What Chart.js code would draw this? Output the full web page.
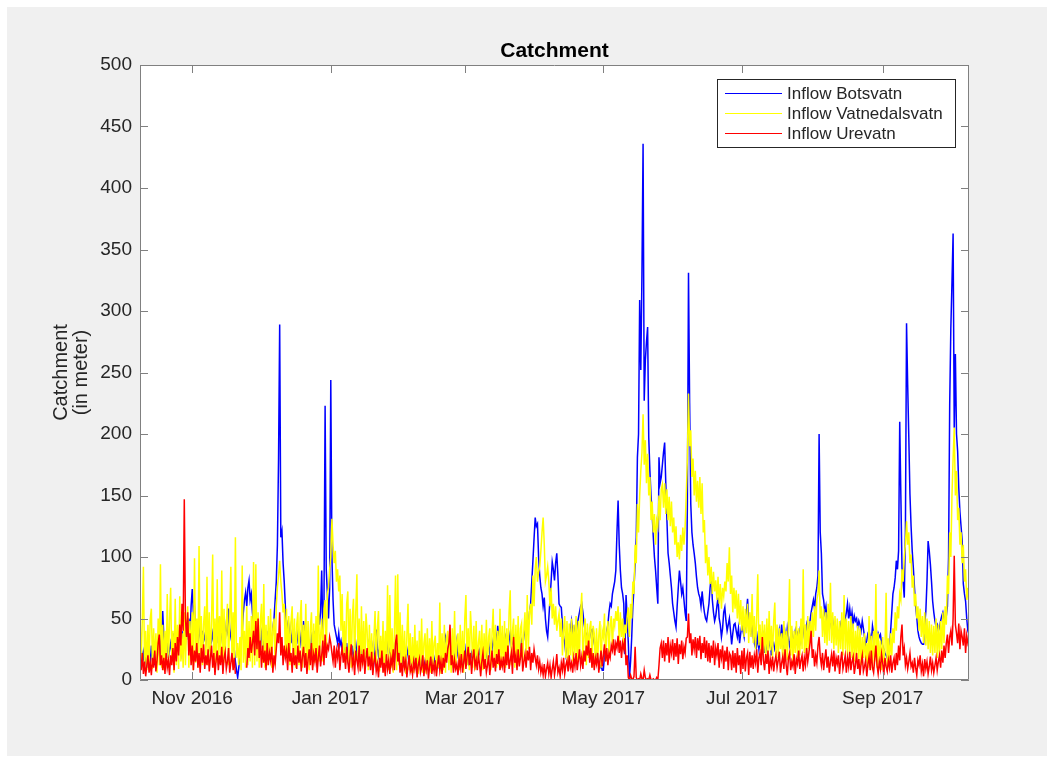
<!DOCTYPE html>
<html>
<head>
<meta charset="utf-8">
<title>Catchment</title>
<script src="https://cdn.jsdelivr.net/npm/chart.js@4.4.1/dist/chart.umd.min.js"></script>
<style>
  html, body { margin: 0; padding: 0; background: #ffffff; }
  canvas { display: block; }
</style>
</head>
<body>
<canvas id="grafico" width="1054" height="758"></canvas>
<script>
// one value every half day, starting 9 Oct 2016 (day 0)
const stepDays = 0.5;
const dayMax = 365;

// x tick positions (days since 9 Oct 2016) and their labels
const tickDays = [23, 84, 143, 204, 265, 327];
const tickLabels = ["Nov 2016", "Jan 2017", "Mar 2017", "May 2017", "Jul 2017", "Sep 2017"];
const yMax = 500;
const yStep = 50;

const seriesNames = ["Inflow Botsvatn", "Inflow Vatnedalsvatn", "Inflow Urevatn"];

const botsvatn = [
  20, 27, 15, 22, 12, 18, 25, 10, 20, 14, 28, 16, 22, 12, 30, 18, 24, 35, 20, 40,
  56, 35, 28, 20, 32, 18, 25, 30, 22, 38, 26, 20, 30, 24, 35, 28, 22, 40, 30, 35,
  30, 45, 38, 50, 35, 60, 74, 55, 60, 45, 38, 30, 42, 35, 28, 40, 32, 36, 30, 38,
  35, 28, 40, 32, 38, 30, 42, 36, 45, 30, 51, 40, 35, 28, 38, 32, 45, 40, 58, 42,
  35, 30, 40, 25, 15, 8, 2, 10, 20, 30, 40, 55, 65, 71, 60, 75, 81, 65, 70, 55,
  45, 35, 40, 28, 35, 30, 25, 38, 32, 28, 35, 25, 30, 40, 28, 35, 30, 42, 50, 65,
  80, 110, 180, 289, 116, 121, 95, 80, 60, 40, 45, 35, 42, 30, 38, 28, 35, 30, 40, 32,
  36, 30, 38, 28, 48, 35, 30, 25, 32, 28, 22, 35, 30, 40, 28, 35, 42, 56, 45, 55,
  89, 40, 60, 223, 90, 70, 50, 75, 244, 100, 65, 45, 40, 35, 30, 38, 28, 32, 25, 30,
  28, 22, 30, 18, 25, 32, 20, 28, 15, 25, 30, 22, 18, 28, 24, 20, 30, 16, 26, 22,
  20, 28, 18, 25, 30, 22, 15, 24, 41, 28, 20, 25, 18, 30, 22, 16, 28, 20, 35, 22,
  25, 18, 30, 20, 15, 28, 22, 30, 18, 25, 20, 15, 22, 18, 12, 20, 25, 16, 22, 14,
  18, 12, 20, 15, 10, 18, 14, 20, 12, 16, 10, 15, 18, 12, 20, 14, 10, 16, 12, 18,
  14, 10, 16, 12, 18, 15, 20, 25, 30, 35, 28, 22, 18, 15, 20, 16, 22, 18, 25, 32,
  20, 15, 22, 18, 12, 20, 16, 25, 18, 14, 20, 15, 22, 18, 25, 20, 16, 22, 18, 24,
  20, 25, 18, 22, 28, 20, 25, 30, 22, 28, 25, 32, 28, 38, 30, 44, 35, 40, 35, 30,
  32, 28, 35, 30, 25, 32, 38, 28, 30, 35, 26, 32, 28, 35, 30, 25, 32, 28, 35, 40,
  35, 40, 45, 55, 62, 80, 97, 115, 132, 125, 127, 100, 85, 75, 70, 60, 67, 50, 40, 35,
  50, 65, 80, 96, 90, 81, 95, 103, 85, 62, 60, 59, 45, 35, 30, 21, 28, 35, 30, 40,
  48, 40, 35, 42, 38, 45, 50, 55, 60, 62, 55, 46, 40, 35, 38, 30, 35, 40, 41, 35,
  30, 25, 22, 18, 15, 10, 12, 8, 8, 20, 30, 40, 45, 55, 62, 60, 70, 75, 80, 89,
  120, 146, 110, 89, 75, 70, 62, 21, 69, 50, 30, 2, 15, 35, 60, 75, 95, 116, 181, 200,
  309, 252, 330, 436, 227, 260, 275, 287, 197, 170, 150, 135, 116, 100, 89, 75, 62, 181, 160, 165,
  175, 185, 193, 160, 130, 103, 95, 85, 75, 62, 55, 48, 43, 60, 75, 89, 80, 70, 75, 65,
  55, 48, 143, 331, 225, 143, 120, 110, 103, 95, 84, 75, 70, 67, 60, 72, 62, 55, 50, 48,
  55, 62, 75, 84, 65, 55, 48, 52, 60, 67, 50, 45, 35, 42, 55, 59, 48, 40, 45, 50,
  40, 29, 38, 45, 46, 40, 35, 42, 30, 38, 45, 40, 35, 48, 55, 66, 50, 42, 38, 45,
  35, 30, 40, 28, 35, 25, 32, 30, 28, 35, 22, 30, 25, 35, 28, 32, 20, 28, 30, 25,
  28, 35, 30, 40, 32, 45, 35, 28, 38, 30, 42, 35, 28, 32, 38, 30, 35, 40, 32, 38,
  35, 40, 32, 38, 42, 35, 40, 45, 38, 42, 48, 55, 60, 65, 58, 70, 75, 85, 200, 120,
  103, 70, 65, 55, 60, 48, 52, 45, 50, 42, 48, 40, 45, 38, 42, 35, 40, 45, 38, 42,
  45, 50, 55, 62, 50, 58, 48, 55, 45, 52, 48, 50, 42, 48, 45, 40, 48, 42, 35, 29,
  32, 38, 40, 35, 30, 44, 38, 35, 40, 32, 38, 35, 37, 30, 28, 25, 22, 20, 18, 16,
  25, 40, 55, 70, 75, 83, 97, 90, 105, 210, 150, 91, 80, 67, 120, 290, 240, 197, 151, 125,
  105, 91, 75, 60, 51, 40, 35, 32, 30, 29, 29, 45, 56, 80, 113, 105, 94, 80, 64, 55,
  48, 43, 45, 40, 42, 48, 52, 55, 50, 48, 52, 60, 100, 224, 286, 323, 363, 205, 265, 200,
  186, 156, 137, 125, 113, 78, 70, 64, 50, 40, 37
];

const vatnedalsvatn = [
  55, 12, 48, 92, 10, 40, 8, 45, 14, 50, 58, 9, 42, 15, 38, 6, 50, 12, 94, 10,
  45, 8, 40, 12, 70, 10, 48, 75, 14, 40, 6, 66, 12, 45, 9, 68, 15, 38, 10, 55,
  12, 42, 60, 10, 48, 15, 55, 8, 99, 14, 50, 10, 109, 18, 52, 12, 45, 60, 15, 84,
  12, 55, 16, 48, 102, 10, 50, 14, 82, 12, 52, 18, 89, 10, 58, 14, 47, 62, 12, 50,
  92, 15, 55, 10, 116, 18, 30, 12, 35, 8, 93, 14, 40, 10, 60, 12, 48, 15, 52, 10,
  96, 12, 94, 15, 55, 10, 48, 62, 14, 78, 10, 45, 12, 52, 16, 58, 10, 42, 50, 12,
  60, 75, 85, 97, 80, 70, 55, 62, 20, 58, 15, 52, 12, 48, 60, 14, 50, 10, 45, 55,
  12, 50, 65, 10, 45, 15, 62, 12, 48, 8, 42, 55, 10, 46, 14, 52, 12, 93, 15, 36,
  50, 15, 58, 65, 20, 70, 75, 90, 100, 131, 110, 95, 105, 80, 90, 72, 85, 40, 70, 20,
  48, 12, 62, 72, 14, 58, 10, 52, 66, 12, 55, 86, 15, 50, 8, 60, 12, 48, 10, 54,
  40, 8, 45, 12, 38, 6, 35, 56, 10, 42, 56, 7, 36, 12, 48, 6, 40, 10, 77, 8,
  69, 10, 42, 6, 38, 85, 8, 86, 12, 55, 7, 45, 10, 40, 5, 36, 62, 8, 38, 6,
  35, 6, 45, 10, 32, 5, 40, 8, 50, 6, 30, 38, 5, 42, 8, 34, 6, 48, 10, 30,
  36, 6, 30, 10, 63, 5, 38, 8, 45, 6, 34, 40, 8, 35, 6, 42, 10, 56, 8, 32,
  38, 8, 45, 10, 40, 6, 50, 69, 12, 42, 8, 56, 38, 10, 44, 8, 48, 12, 30, 40,
  10, 45, 8, 38, 12, 49, 10, 35, 42, 8, 38, 58, 12, 45, 10, 40, 12, 58, 10, 44,
  12, 48, 10, 42, 14, 55, 73, 12, 40, 50, 10, 45, 15, 52, 12, 42, 46, 14, 40, 55,
  20, 69, 25, 55, 62, 45, 85, 60, 90, 100, 80, 88, 92, 105, 120, 132, 110, 80, 85, 92,
  80, 60, 75, 50, 62, 45, 60, 40, 48, 54, 35, 50, 20, 40, 52, 18, 48, 15, 46, 20,
  50, 15, 45, 20, 52, 12, 48, 18, 55, 71, 14, 35, 50, 12, 46, 18, 42, 48, 10, 44,
  38, 12, 42, 15, 36, 48, 10, 40, 35, 54, 15, 38, 48, 20, 45, 52, 25, 50, 44, 56,
  48, 60, 30, 55, 35, 50, 25, 45, 38, 52, 59, 35, 62, 50, 80, 70, 110, 95, 143, 120,
  150, 170, 185, 216, 175, 195, 160, 184, 150, 165, 130, 145, 120, 135, 110, 130, 125, 150, 130, 155,
  159, 140, 160, 135, 155, 130, 149, 125, 145, 120, 132, 110, 125, 100, 112, 98, 118, 105, 124, 110,
  124, 150, 180, 233, 190, 203, 165, 180, 150, 170, 145, 162, 140, 165, 135, 160, 120, 130, 95, 110,
  85, 100, 78, 92, 70, 88, 72, 81, 65, 84, 62, 78, 58, 75, 68, 80, 72, 95, 80, 108,
  70, 85, 55, 75, 58, 73, 50, 70, 45, 65, 40, 60, 35, 58, 38, 62, 30, 55, 35, 70,
  30, 52, 25, 50, 86, 28, 45, 20, 48, 22, 45, 18, 50, 20, 56, 24, 44, 18, 48, 63,
  20, 45, 18, 42, 25, 38, 15, 48, 22, 40, 16, 45, 82, 20, 44, 15, 40, 22, 48, 18,
  42, 20, 50, 25, 90, 22, 45, 18, 52, 25, 48, 30, 55, 35, 60, 40, 65, 70, 89, 50,
  60, 35, 58, 30, 55, 28, 62, 32, 79, 30, 55, 25, 52, 28, 50, 22, 48, 25, 55, 20,
  69, 25, 50, 20, 48, 22, 52, 18, 46, 15, 40, 20, 44, 16, 42, 12, 35, 18, 38, 14,
  30, 10, 52, 12, 36, 8, 40, 15, 78, 10, 38, 12, 32, 8, 35, 14, 25, 71, 10, 34,
  12, 38, 20, 42, 30, 55, 40, 60, 50, 70, 65, 90, 80, 100, 110, 129, 110, 120, 95, 102,
  75, 85, 60, 70, 50, 60, 40, 58, 35, 52, 30, 55, 28, 50, 25, 48, 22, 45, 20, 44,
  22, 50, 18, 45, 20, 48, 25, 55, 30, 60, 45, 85, 70, 120, 100, 150, 180, 205, 150, 170,
  130, 140, 110, 120, 95, 110, 80, 90, 65, 75, 62
];

const urevatn = [
  18, 8, 22, 5, 15, 3, 12, 20, 6, 14, 4, 18, 10, 24, 7, 16, 30, 37, 12, 20,
  8, 18, 5, 22, 10, 16, 4, 20, 12, 26, 8, 30, 15, 35, 20, 45, 28, 62, 40, 147,
  50, 35, 55, 20, 38, 12, 28, 8, 24, 15, 30, 10, 22, 6, 26, 14, 29, 9, 20, 12,
  25, 7, 18, 28, 10, 22, 4, 16, 24, 8, 20, 12, 27, 5, 18, 23, 9, 15, 26, 6,
  14, 22, 8, 18, 5, null, null, null, null, null, null, null, null, null, 10, 26, 18, 35, 22, 30,
  40, 20, 48, 25, 50, 18, 32, 10, 28, 14, 24, 8, 30, 12, 22, 16, 27, 6, 20, 13,
  25, 38, 30, 55, 20, 35, 12, 28, 18, 24, 8, 30, 15, 22, 6, 26, 12, 20, 9, 28,
  14, 24, 7, 19, 27, 10, 22, 5, 17, 25, 12, 30, 8, 21, 15, 26, 6, 18, 28, 11,
  20, 32, 12, 37, 18, 28, 25, 35, 30, 22, 15, 28, 10, 24, 18, 30, 8, 20, 26, 14,
  22, 9, 27, 15, 6, 20, 29, 12, 18, 4, 24, 16, 10, 28, 7, 21, 14, 25, 5, 17,
  26, 11, 19, 8, 23, 4, 15, 20, 7, 13, 2, 18, 10, 24, 6, 14, 3, 21, 9, 16,
  5, 18, 12, 25, 8, 30, 37, 15, 22, 6, 14, 3, 19, 10, 16, 2, 12, 20, 7, 11,
  4, 15, 9, 18, 2, 12, 17, 6, 10, 20, 3, 14, 8, 16, 1, 11, 19, 5, 13, 7,
  16, 3, 12, 20, 8, 15, 5, 18, 10, 22, 14, 25, 30, 45, 12, 20, 6, 16, 9, 13,
  4, 17, 10, 21, 6, 14, 24, 9, 19, 27, 12, 22, 5, 18, 25, 11, 16, 8, 20, 13,
  3, 15, 22, 9, 17, 6, 12, 20, 4, 14, 24, 10, 18, 7, 21, 13, 25, 8, 16, 11,
  19, 6, 23, 12, 28, 9, 16, 22, 5, 35, 14, 20, 8, 25, 11, 18, 30, 7, 15, 21,
  10, 24, 16, 27, 8, 22, 14, 25, 18, 12, 20, 9, 15, 6, 11, 4, 13, 3, 9, 14,
  5, 12, 2, 9, 15, 4, 11, 21, 6, 10, 3, 14, 8, 18, 5, 12, 16, 7, 20, 10,
  14, 6, 18, 11, 22, 8, 16, 25, 12, 19, 9, 24, 15, 28, 20, 32, 14, 26, 10, 22,
  8, 18, 13, 22, 6, 16, 24, 11, 20, 29, 15, 26, 12, 22, 18, 28, 24, 33, 20, 30,
  26, 36, 22, 32, 18, 30, 25, 34, 12, 20, 2, 0, 4, 1, 0, 3, 27, 2, 0, 1,
  0, 5, 1, 0, 8, 2, 0, 1, 0, 4, 0, 0, 1, 0, 0, 2, 0, 12, 26, 30,
  18, 32, 15, 30, 20, 35, 14, 28, 22, 33, 16, 30, 19, 34, 13, 29, 21, 32, 17, 27,
  22, 34, 35, 54, 30, 38, 20, 33, 25, 35, 18, 34, 24, 36, 17, 30, 22, 35, 18, 32,
  15, 30, 14, 28, 18, 32, 12, 26, 20, 30, 10, 25, 18, 28, 9, 24, 15, 27, 8, 22,
  20, 8, 24, 10, 22, 6, 26, 12, 20, 5, 24, 9, 26, 7, 18, 22, 4, 23, 10, 20,
  9, 20, 14, 25, 6, 18, 22, 12, 35, 16, 8, 21, 13, 24, 5, 17, 11, 19, 7, 15,
  20, 10, 16, 23, 6, 14, 19, 9, 25, 12, 4, 18, 22, 8, 15, 11, 21, 5, 17, 13,
  24, 9, 16, 20, 7, 18, 12, 26, 15, 22, 30, 40, 18, 25, 11, 20, 14, 28, 35, 19,
  12, 22, 8, 17, 25, 10, 19, 6, 15, 21, 11, 24, 7, 18, 13, 20, 5, 16, 23, 9,
  14, 20, 6, 18, 11, 23, 8, 15, 19, 5, 12, 22, 9, 17, 4, 14, 20, 7, 11, 16,
  3, 13, 19, 8, 24, 10, 6, 17, 28, 12, 5, 15, 9, 21, 14, 4, 18, 11, 7, 16,
  10, 20, 6, 14, 18, 8, 22, 12, 28, 16, 35, 45, 20, 26, 12, 18, 9, 15, 22, 11,
  14, 6, 18, 10, 4, 16, 12, 20, 7, 13, 3, 17, 9, 15, 5, 11, 19, 8, 14, 6,
  12, 18, 8, 15, 20, 10, 24, 14, 28, 18, 30, 37, 22, 35, 40, 28, 50, 101, 45, 38,
  30, 46, 25, 40, 35, 28, 42, 22, 36, 30, 34
];

const fonte = "'Liberation Sans', Arial, Helvetica, sans-serif";
const corEixo = "#808080";
const corTexto = "#262626";
const coresSeries = ["#0000ff", "#ffff00", "#ff0000"];

function paraPontos(valores) {
  return valores.map((v, i) => ({ x: i * stepDays, y: v }));
}

// fundo cinza da figura e area branca do grafico
const fundoPlugin = {
  id: "fundo",
  beforeDraw(chart) {
    const { ctx, chartArea: a } = chart;
    ctx.save();
    ctx.fillStyle = "#ffffff";
    ctx.fillRect(0, 0, chart.width, chart.height);
    ctx.fillStyle = "#f0f0f0";
    ctx.fillRect(7, 7, 1040, 749);
    ctx.fillStyle = "#ffffff";
    ctx.fillRect(a.left, a.top, a.right - a.left, a.bottom - a.top);
    ctx.restore();
  }
};

// caixa, marcas para dentro, titulo e legenda
const molduraPlugin = {
  id: "moldura",
  afterDatasetsDraw(chart) {
    const { ctx, chartArea: a, scales } = chart;
    const tl = 8;
    ctx.save();
    ctx.strokeStyle = corEixo;
    ctx.lineWidth = 1;
    ctx.beginPath();
    ctx.rect(a.left + 0.5, a.top + 0.5, a.right - a.left - 1, a.bottom - a.top - 1);
    for (let v = 0; v <= yMax; v += yStep) {
      const y = Math.round(scales.y.getPixelForValue(v)) + 0.5;
      ctx.moveTo(a.left, y); ctx.lineTo(a.left + tl, y);
      ctx.moveTo(a.right, y); ctx.lineTo(a.right - tl, y);
    }
    tickDays.forEach(d => {
      const x = Math.round(scales.x.getPixelForValue(d)) + 0.5;
      ctx.moveTo(x, a.bottom); ctx.lineTo(x, a.bottom - tl);
      ctx.moveTo(x, a.top); ctx.lineTo(x, a.top + tl);
    });
    ctx.stroke();

    // titulo
    ctx.fillStyle = "#000000";
    ctx.font = "bold 21px " + fonte;
    ctx.textAlign = "center";
    ctx.textBaseline = "alphabetic";
    ctx.fillText("Catchment", (a.left + a.right) / 2, 57);

    // legenda
    const bx = 717.5, by = 79.5, bw = 238, bh = 68;
    ctx.fillStyle = "#ffffff";
    ctx.fillRect(bx, by, bw, bh);
    ctx.strokeStyle = "#262626";
    ctx.strokeRect(bx, by, bw, bh);
    ctx.font = "17px " + fonte;
    ctx.textAlign = "left";
    ctx.textBaseline = "middle";
    seriesNames.forEach((nome, i) => {
      const y = 93.5 + i * 20;
      ctx.strokeStyle = coresSeries[i];
      ctx.beginPath();
      ctx.moveTo(725, y); ctx.lineTo(782, y);
      ctx.stroke();
      ctx.fillStyle = corTexto;
      ctx.fillText(nome, 787, y + 1);
    });
    ctx.restore();
  }
};

const dadosSeries = [botsvatn, vatnedalsvatn, urevatn];

new Chart(document.getElementById("grafico"), {
  type: "line",
  data: {
    datasets: dadosSeries.map((valores, i) => ({
      label: seriesNames[i],
      data: paraPontos(valores),
      borderColor: coresSeries[i],
      borderWidth: 1.5,
      pointRadius: 0,
      tension: 0,
      spanGaps: false,
      order: 3 - i // vermelho por cima, azul por baixo
    }))
  },
  options: {
    responsive: false,
    animation: false,
    events: [],
    layout: { padding: { top: 65, right: 85, bottom: 0, left: 0 } },
    plugins: {
      legend: { display: false },
      tooltip: { enabled: false }
    },
    scales: {
      x: {
        type: "linear",
        min: 0,
        max: dayMax,
        afterBuildTicks: s => { s.ticks = tickDays.map(v => ({ value: v })); },
        afterFit: s => { s.height = 78; },
        ticks: {
          autoSkip: false,
          maxRotation: 0,
          padding: 7,
          color: corTexto,
          font: { family: fonte, size: 19 },
          callback: (v, i) => tickLabels[i]
        },
        grid: { display: false, drawTicks: false },
        border: { display: false }
      },
      y: {
        min: 0,
        max: yMax,
        afterFit: s => { s.width = 140; },
        ticks: {
          stepSize: yStep,
          padding: 8,
          color: corTexto,
          font: { family: fonte, size: 19 }
        },
        grid: { display: false, drawTicks: false },
        border: { display: false },
        title: {
          display: true,
          text: ["Catchment", "(in meter)"],
          color: corTexto,
          font: { family: fonte, size: 20, lineHeight: 1 },
          padding: { top: 51, bottom: 0 }
        }
      }
    }
  },
  plugins: [fundoPlugin, molduraPlugin]
});
</script>
</body>
</html>
